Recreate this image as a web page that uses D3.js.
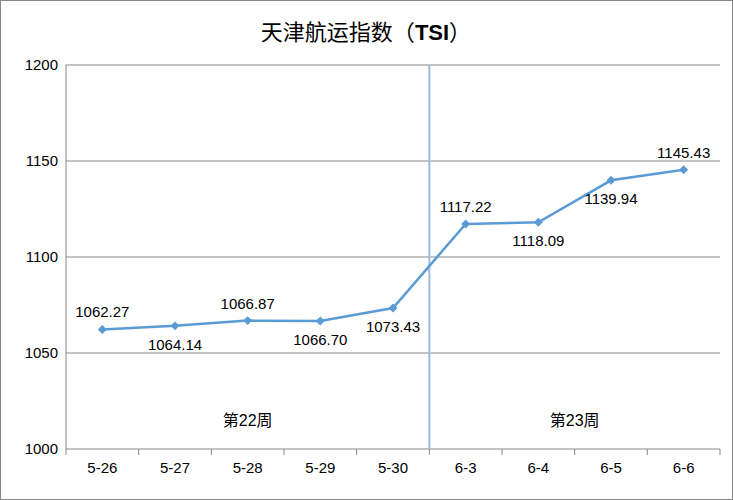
<!DOCTYPE html><html><head><meta charset="utf-8"><script src="https://cdn.jsdelivr.net/npm/d3@7"></script>
<style>body{margin:0;background:#fff}</style></head><body><svg id="c" width="733" height="500"></svg>
<script>
const categories=["5-26","5-27","5-28","5-29","5-30","6-3","6-4","6-5","6-6"];
const values=[1062.27,1064.14,1066.87,1066.70,1073.43,1117.22,1118.09,1139.94,1145.43];
const labelPos=["up","down","up","down","down","up","down","down","up"];
const yTicks=[1000,1050,1100,1150,1200];
const weeks=[{name:"第22周",from:0,to:4},{name:"第23周",from:5,to:8}];
const svg=d3.select("#c");
const font="'Liberation Sans','Noto Sans CJK SC',sans-serif";
svg.append("rect").attr("x",0.5).attr("y",0.5).attr("width",732).attr("height",499).attr("fill","#fff").attr("stroke","#888");
const L=66,R=720,T=65,B=449;
const x=d3.scaleBand().domain(categories).range([L,R]);
const y=d3.scaleLinear().domain([1000,1200]).range([B,T]);
svg.append("text").attr("x",366).attr("y",40).attr("text-anchor","middle").attr("font-family",font).attr("font-size",22).text("天津航运指数（").append("tspan").attr("font-weight","bold").text("TSI").clone(true).attr("font-weight","normal").text("）");
yTicks.forEach(t=>{svg.append("line").attr("x1",L).attr("x2",R).attr("y1",y(t)).attr("y2",y(t)).attr("stroke","#888");
svg.append("text").attr("x",L-8).attr("y",y(t)+5).attr("text-anchor","end").attr("font-family",font).attr("font-size",15).text(t);});
svg.append("line").attr("x1",L).attr("x2",L).attr("y1",T).attr("y2",B).attr("stroke","#888");
categories.forEach((c,i)=>{const xs=L+i*x.bandwidth();
svg.append("line").attr("x1",xs).attr("x2",xs).attr("y1",B).attr("y2",B+6).attr("stroke","#888");
svg.append("text").attr("x",x(c)+x.bandwidth()/2).attr("y",B+24).attr("text-anchor","middle").attr("font-family",font).attr("font-size",15).text(c);});
svg.append("line").attr("x1",R).attr("x2",R).attr("y1",B).attr("y2",B+6).attr("stroke","#888");
const sep=x(categories[5]);
svg.append("line").attr("x1",sep).attr("x2",sep).attr("y1",T).attr("y2",B).attr("stroke","#9dbbe0").attr("stroke-width",2);
weeks.forEach(w=>{const cx=(x(categories[w.from])+x(categories[w.to])+x.bandwidth())/2;
svg.append("text").attr("x",cx).attr("y",426).attr("text-anchor","middle").attr("font-family",font).attr("font-size",16).text(w.name);});
const cxp=i=>x(categories[i])+x.bandwidth()/2;
svg.append("path").datum(values).attr("fill","none").attr("stroke","#5b9bd5").attr("stroke-width",2.5)
.attr("d",d3.line().x((d,i)=>cxp(i)).y(d=>y(d)));
values.forEach((v,i)=>{svg.append("path").attr("d",d3.symbol(d3.symbolSquare,40)()).attr("transform",`translate(${cxp(i)},${y(v)}) rotate(45)`).attr("fill","#5b9bd5");
svg.append("text").attr("x",cxp(i)).attr("y",y(v)+(labelPos[i]=="up"?-12:24)).attr("text-anchor","middle").attr("font-family",font).attr("font-size",15).text(v.toFixed(2));});
</script></body></html>
